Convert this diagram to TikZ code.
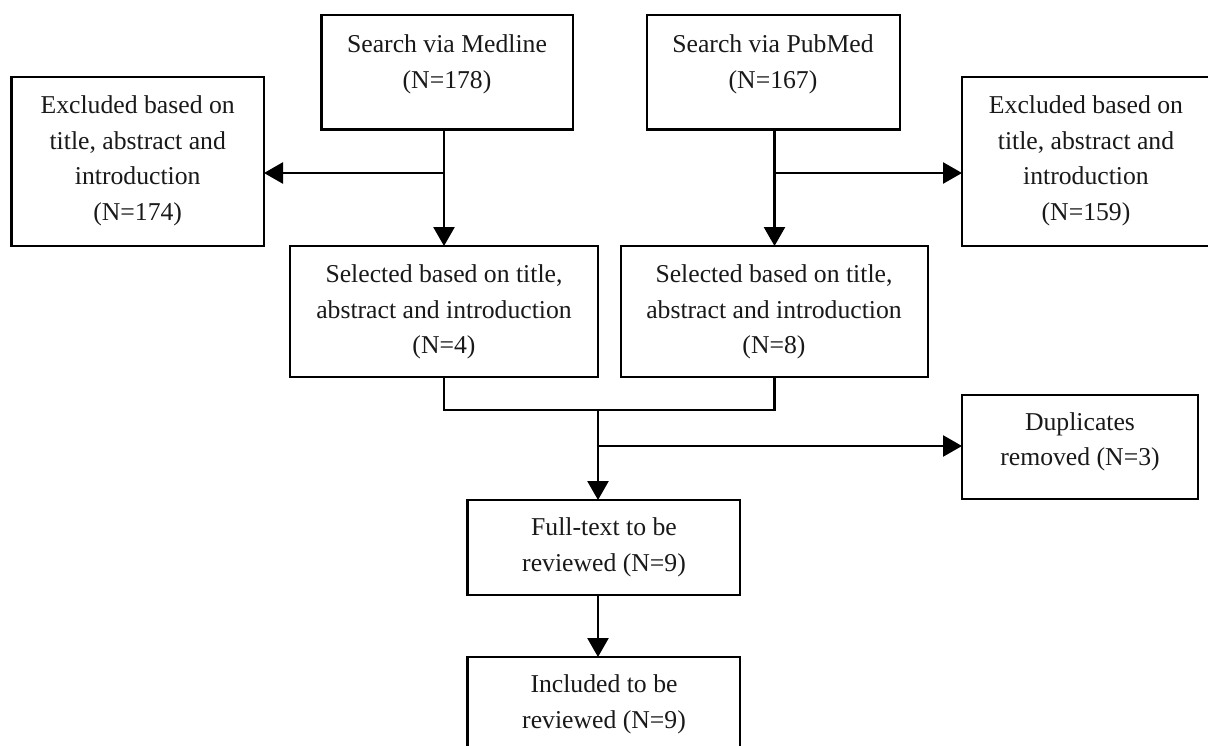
\documentclass[tikz,border=0pt]{standalone}
\usepackage{fontspec}
\setmainfont{Liberation Serif}
\usetikzlibrary{arrows.meta}
\tikzset{
  box/.style={draw=black, line width=2.8pt, inner sep=0pt, outer sep=0pt, minimum width=#1},
  lbl/.style={align=center, inner sep=0pt, text=black!90, font=\fontsize{25.7}{35.5}\selectfont},
  conn/.style={draw=black, line width=2.6pt},
  arr/.style={conn, -{Triangle[length=19pt,width=21pt]}}
}
\begin{document}
\begin{tikzpicture}[x=1pt,y=-1pt]
\useasboundingbox (0,0) rectangle (1208,745);
\clip (0,0) rectangle (1208,745);
\fill[white] (0,0) rectangle (1208,745);
% boxes
\node[box=251.5pt, minimum height=114.5pt] (med) at (447.25,72.25) {};
\node[box=253pt, minimum height=114.5pt] (pub) at (773.5,72.25) {};
\node[box=252.5pt, minimum height=169pt] (exL) at (137.75,161.5) {};
\node[box=254pt, minimum height=169pt] (exR) at (1089,161.5) {};
\node[box=308pt, minimum height=131pt] (selL) at (444,311.5) {};
\node[box=307pt, minimum height=131pt] (selR) at (774.5,311.5) {};
\node[box=236pt, minimum height=104pt] (dup) at (1080,447) {};
\node[box=272.5pt, minimum height=95pt] (full) at (603.75,547.5) {};
\node[box=272.5pt, minimum height=95pt] (incl) at (603.75,704.5) {};
% texts
\node[lbl] (tmed) at (447,64.5) {Search via Medline\\(N=178)};
\node[lbl] (tpub) at (773,64.5) {Search via PubMed\\(N=167)};
\node[lbl] (texL) at (137.7,161) {Excluded based on\\title, abstract and\\introduction\\(N=174)};
\node[lbl] (texR) at (1086,161) {Excluded based on\\title, abstract and\\introduction\\(N=159)};
\node[lbl] (tselL) at (444,312) {Selected based on title,\\abstract and introduction\\(N=4)};
\node[lbl] (tselR) at (774,312) {Selected based on title,\\abstract and introduction\\(N=8)};
\node[lbl] (tdup) at (1080,442) {Duplicates\\removed (N=3)};
\node[lbl] (tfull) at (604,547.5) {Full-text to be\\reviewed (N=9)};
\node[lbl] (tincl) at (604,704.5) {Included to be\\reviewed (N=9)};
% connectors
\coordinate (bL) at (444,173);
\coordinate (bR) at (774.5,173);
\coordinate (jn) at (598,410);
\coordinate (bD) at (598,446);
\draw[arr] (selL.north |- med.south) -- (selL.north);
\draw[arr] (bL) -- (bL -| exL.east);
\draw[arr] (selR.north |- pub.south) -- (selR.north);
\draw[arr] (bR) -- (bR -| exR.west);
\draw[conn] (selL.south) -- (selL.south |- jn) -- (selR.south |- jn) -- (selR.south);
\draw[arr] (jn) -- (jn |- full.north);
\draw[arr] (bD) -- (bD -| dup.west);
\draw[arr] (jn |- full.south) -- (jn |- incl.north);
\end{tikzpicture}
\end{document}
